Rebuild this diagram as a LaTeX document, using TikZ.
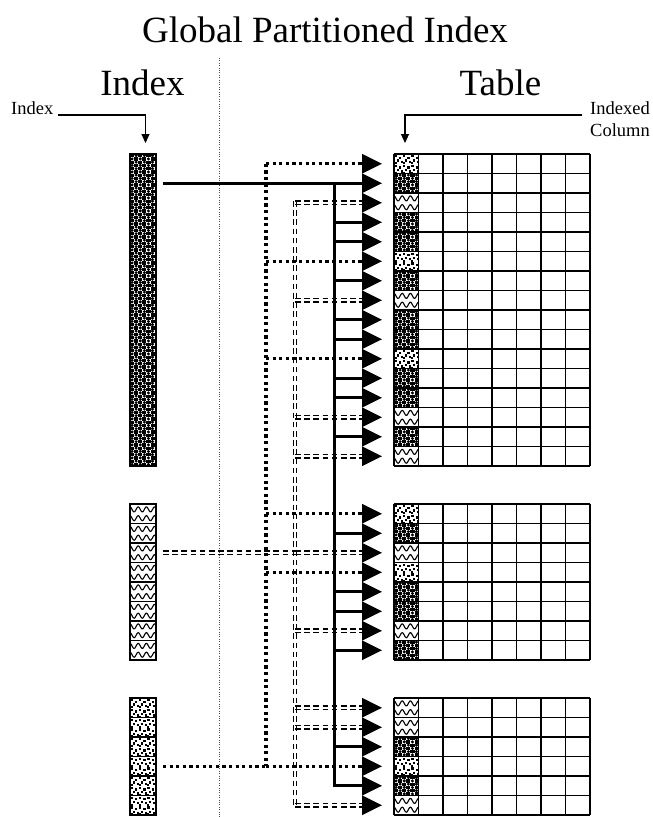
\documentclass[tikz,border=0pt]{standalone}
\usepackage{fontspec}
\setmainfont{Liberation Serif}
\usetikzlibrary{arrows.meta,calc}

\tikzset{
  solidlink/.style={line width=3pt},
  dotlink/.style={line width=3.2pt, dash pattern=on 3.2pt off 3.4pt},
  dashlink/.style={line width=1.2pt, dash pattern=on 5.6pt off 3.6pt},
  grid line/.style={line width=1.3pt},
  separator/.style={line width=0.8pt, gray!60!black, dash pattern=on 1pt off 1.4pt},
  leader/.style={line width=1.1pt, -{Triangle[width=8pt,length=9pt]}},
  heading/.style={font=\fontsize{37}{40}\selectfont, inner sep=0pt},
  small label/.style={font=\fontsize{18.5}{20}\selectfont, inner sep=0pt},
}

% cell fills: #1 = left, #2 = top, #3 = width
\newcommand{\cellc}[3]{%
  \begin{scope}
    \clip (#1,#2) rectangle ++(#3,19.5);
    \foreach \ci in {0,...,3}{\foreach \cj in {0,...,2}{
      \fill ({#1+8.2*\ci},{#2+6.5*\cj}) rectangle ++(4.1,3.25);
      \fill ({#1+4.1+8.2*\ci},{#2+3.25+6.5*\cj}) rectangle ++(4.1,3.25);
      \fill ({#1+6.15+8.2*\ci},{#2+1.6+6.5*\cj}) circle[radius=1.7pt];
      \fill ({#1+2.05+8.2*\ci},{#2+4.9+6.5*\cj}) circle[radius=1.7pt];
    }}
  \end{scope}}
\newcommand{\cellw}[3]{%
  \begin{scope}
    \clip (#1,#2) rectangle ++(#3,19.5);
    \foreach \wv in {5.4,14.2}{
      \draw[line width=1.1pt] plot[domain=-1:27, samples=60, smooth]
        ({#1+\x},{#2+\wv-2.5*cos(360*\x/8.2)});}
  \end{scope}}
\newcommand{\celld}[3]{%
  \begin{scope}
    \clip (#1,#2) rectangle ++(#3,19.5);
    \foreach \di in {0,...,3}{\foreach \dj in {0,1}{
      \foreach \du/\dv in {1.0/1.2, 5.2/2.6, 2.8/5.4, 6.6/6.6, 0.6/8.0}{
        \fill ({#1+8.2*\di+\du},{#2+9.75*\dj+\dv}) rectangle ++(2.2,2.2);}}}
  \end{scope}}

% connectors of the three kinds between two points
\newcommand{\linkc}[2]{\draw[solidlink] (#1) -- (#2);}
\newcommand{\linkd}[2]{\draw[dotlink] (#1) -- (#2);}
\newcommand{\linkw}[3][0,1.7]{%
  \draw[dashlink] ($(#2)+(#1)$) -- ($(#3)+(#1)$);
  \draw[dashlink] ($(#2)-(#1)$) -- ($(#3)-(#1)$);}

% indexed column cells plus arrow-base coordinates: #1 top, #2 name, #3 pattern list macro
\newcommand{\rowset}[3]{%
  \foreach \p [count=\r] in #3{%
    \pgfmathsetmacro{\yy}{#1+19.5*(\r-1)}%
    \csname cell\p\endcsname{394}{\yy}{24.5}%
    \coordinate (#2-\r) at (362,{\yy+9.75});%
  }}
% table grid: #1 top, #2 number of rows
\newcommand{\tablegrid}[2]{%
  \foreach \c in {0,...,8}
    \draw[grid line] ({394+24.5*\c},#1) -- ({394+24.5*\c},{#1+19.5*#2});
  \foreach \r in {0,...,#2}
    \draw[grid line] (394,{#1+19.5*\r}) -- (590,{#1+19.5*\r});}
% branch links of one kind: #1 name, #2 pattern list macro, #3 kind
\newcommand{\branches}[3]{%
  \def\want{#3}%
  \foreach \p [count=\r] in #2{%
    \ifx\p\want \csname link#3\endcsname{bus#3 |- #1-\r}{#1-\r}\fi}}
% arrow heads of one table: #1 name, #2 rows
\newcommand{\heads}[2]{%
  \foreach \r in {1,...,#2}
    \fill (#1-\r) ++(0,-9.9) -- ++(20,9.9) -- ++(-20,9.9) -- cycle;}

\def\listA{d,c,w,c,c,d,c,w,c,c,d,c,c,w,c,w}
\def\listB{d,c,w,d,c,c,w,c}
\def\listC{w,w,c,d,c,w}

\begin{document}
\begin{tikzpicture}[x=1pt,y=-1pt]
\useasboundingbox (0,0) rectangle (653,817);
\fill[white] (0,0) rectangle (653,817);

% headings and labels
\node[heading, anchor=base] (title) at (325,42) {Global Partitioned Index};
\node[heading, anchor=base] (idxhead) at (142.5,95) {Index};
\node[heading, anchor=base] (tblhead) at (500.5,95) {Table};
\node[small label, anchor=base west] (idxlabel) at (11,114) {Index};
\node[small label, anchor=base west] (colA) at (590,114) {Indexed};
\node[small label, anchor=base west] (colB) at (590,136) {Column};

% separator between index side and table side
\coordinate (septop) at (219,58);
\coordinate (sepbot) at (219,817);
\draw[separator] (septop) -- (sepbot);

% leader arrows
\coordinate (idxtip) at (145.5,143);
\coordinate (coltip) at (405,143);
\draw[leader] ([xshift=4pt,yshift=-1pt]idxlabel.base east) -| (idxtip);
\draw[leader] ([xshift=-8pt,yshift=-1pt]colA.base west) -| (coltip);

% index partitions
\foreach \k in {0,...,15} \cellc{130}{154+19.5*\k}{26};
\draw[grid line] (130,154) rectangle (156,466);
\foreach \k in {0,...,7} \cellw{130}{504+19.5*\k}{26};
\foreach \k in {0,...,8} \draw[grid line] (130,{504+19.5*\k}) -- (156,{504+19.5*\k});
\draw[grid line] (130,504) rectangle (156,660);
\foreach \k in {0,...,5} \celld{130}{698+19.5*\k}{26};
\foreach \k in {0,...,6} \draw[grid line] (130,{698+19.5*\k}) -- (156,{698+19.5*\k});
\draw[grid line] (130,698) rectangle (156,815);

% table partitions
\rowset{154}{T1}{\listA}
\rowset{504}{T2}{\listB}
\rowset{698}{T3}{\listC}
\tablegrid{154}{16}
\tablegrid{504}{8}
\tablegrid{698}{6}

% link buses and index outlets
\coordinate (busc) at (334,0);
\coordinate (busw) at (295,0);
\coordinate (busd) at (266,0);
\coordinate (ix) at (163,0);

% double dashed links from the second index partition
\linkw[1.7,0]{$(busw |- T1-3)+(0,-1.7)$}{$(busw |- T3-6)+(0,1.7)$}
\linkw{ix |- T2-3}{busw |- T2-3}
\branches{T1}{\listA}{w}
\branches{T2}{\listB}{w}
\branches{T3}{\listC}{w}

% dotted links from the third index partition
\linkd{busd |- T1-1}{busd |- T3-4}
\linkd{ix |- T3-4}{busd |- T3-4}
\branches{T1}{\listA}{d}
\branches{T2}{\listB}{d}
\branches{T3}{\listC}{d}

% solid links from the first index partition
\linkc{ix |- T1-2}{busc |- T1-2}
\draw[solidlink] (busc |- T1-2) -- (busc |- T3-5) -- (T3-5);
\branches{T1}{\listA}{c}
\branches{T2}{\listB}{c}
\branches{T3}{\listC}{c}

% arrow heads at every row
\heads{T1}{16}
\heads{T2}{8}
\heads{T3}{6}
\end{tikzpicture}
\end{document}
